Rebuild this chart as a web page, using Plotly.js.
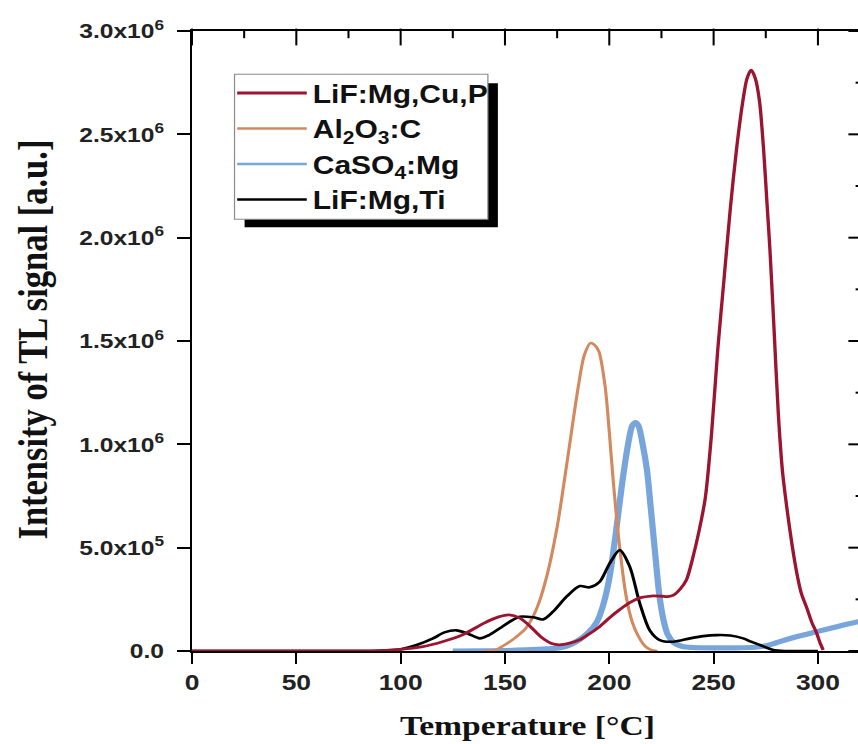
<!DOCTYPE html>
<html><head><meta charset="utf-8">
<script src="https://cdn.plot.ly/plotly-3.0.1.min.js"></script>
<style>
html,body{margin:0;padding:0;overflow:hidden;background:#fff;width:858px;height:744px;}
#wrap{position:absolute;left:0;top:0;width:740px;height:744px;transform:scaleX(1.2);transform-origin:0 0;}
</style></head><body><div id="wrap"><div id="chart"></div></div>
<script>
// Temperature [°C] and TL intensity [a.u.]
const names = ["LiF:Mg,Cu,P", "Al<sub>2</sub>O<sub>3</sub>:C", "CaSO<sub>4</sub>:Mg", "LiF:Mg,Ti"];

const tLiFCuP = [0, 50, 90, 100, 110, 120, 130, 140, 147, 152, 157, 162, 167, 172, 176, 181, 186, 190, 195, 200, 205, 210, 215, 220, 225, 228, 231, 234, 237, 240, 243, 246, 249, 252, 255, 258, 261, 264, 266, 268, 270, 272, 274, 275.5, 277, 279, 281, 283, 285, 287.5, 290, 292, 294.6, 297, 299.4, 301, 302.5];
const iLiFCuP = [0, 0, 2e3, 8e3, 2.0e4, 4.5e4, 8.0e4, 1.35e5, 1.65e5, 1.75e5, 1.60e5, 1.20e5, 7.0e4, 3.8e4, 3.0e4, 3.8e4, 5.5e4, 8.0e4, 1.15e5, 1.60e5, 2.00e5, 2.35e5, 2.58e5, 2.66e5, 2.65e5, 2.63e5, 2.72e5, 3.00e5, 3.45e5, 4.50e5, 5.80e5, 7.40e5, 1.05e6, 1.46e6, 1.80e6, 2.14e6, 2.43e6, 2.66e6, 2.77e6, 2.81e6, 2.77e6, 2.66e6, 2.42e6, 2.18e6, 1.94e6, 1.55e6, 1.15e6, 8.7e5, 7.0e5, 5.2e5, 3.7e5, 2.8e5, 2.1e5, 1.4e5, 8.6e4, 4.0e4, 5e3];

const tAl2O3 = [140, 145, 150, 155, 160, 165, 170, 175, 180, 185, 188, 191, 193, 195, 198, 200, 202, 205, 208, 211, 214, 217, 220, 223];
const iAl2O3 = [0, 3e3, 3.0e4, 6.5e4, 1.10e5, 2.00e5, 3.60e5, 6.00e5, 9.30e5, 1.27e6, 1.43e6, 1.49e6, 1.48e6, 1.45e6, 1.28e6, 1.06e6, 8.1e5, 5.0e5, 2.7e5, 1.4e5, 7.0e4, 2.5e4, 5e3, 0];

const tCaSO4 = [125, 140, 150, 160, 170, 176, 180, 185, 190, 194, 197, 200, 203, 206, 209, 211, 212.6, 214, 216, 218, 220, 222, 224, 226, 228, 231, 235, 240, 250, 260, 270, 275, 280, 290, 300, 310, 322];
const iCaSO4 = [0, 1e3, 2e3, 5e3, 1.0e4, 1.5e4, 2.5e4, 5.0e4, 9.0e4, 1.40e5, 2.20e5, 3.50e5, 5.60e5, 8.00e5, 1.00e6, 1.09e6, 1.105e6, 1.09e6, 1.00e6, 8.8e5, 6.8e5, 4.7e5, 2.7e5, 1.5e5, 8.0e4, 4.0e4, 2.2e4, 1.7e4, 1.5e4, 1.5e4, 1.8e4, 2.5e4, 4.0e4, 7.0e4, 9.5e4, 1.20e5, 1.48e5];

const tLiFTi = [0, 50, 90, 100, 108, 115.5, 121, 126.7, 132, 137.9, 142, 147.5, 152, 157.1, 163.5, 168.3, 173, 179.5, 185.9, 190.6, 195.4, 200.2, 205, 209.8, 214.6, 219.4, 224.2, 230.6, 238.6, 245, 251.4, 258, 264.2, 268, 272.2, 278.6, 285, 300];
const iLiFTi = [0, 0, 1e3, 8e3, 3.0e4, 6.1e4, 9.0e4, 1.00e5, 8.5e4, 6.1e4, 7.5e4, 1.10e5, 1.40e5, 1.66e5, 1.63e5, 1.53e5, 1.90e5, 2.63e5, 3.14e5, 3.08e5, 3.35e5, 4.24e5, 4.88e5, 4.08e5, 2.31e5, 1.00e5, 5.3e4, 4.5e4, 6.1e4, 7.2e4, 7.7e4, 7.5e4, 6.1e4, 4.5e4, 2.9e4, 5e3, 0, 0];

const xMajor = [0, 50, 100, 150, 200, 250, 300];
const xMinor = [25, 75, 125, 175, 225, 275];
const yTickVals = [0, 5e5, 1e6, 1.5e6, 2e6, 2.5e6, 3e6];
const yTickText = ["0.0", "5.0x10<sup>5</sup>", "1.0x10<sup>6</sup>", "1.5x10<sup>6</sup>", "2.0x10<sup>6</sup>", "2.5x10<sup>6</sup>", "3.0x10<sup>6</sup>"];
const yMinor = [2.5e5, 7.5e5, 1.25e6, 1.75e6, 2.25e6, 2.75e6];

const colors = {red: "#9c1530", orange: "#d3895d", blue: "#78a5db", black: "#000000"};

const W = 740, H = 744, ML = 160.4, MR = 21.25, MT = 30.7, MB = 93;
const xr = [0, 321.5], yr = [0, 3e6];
const perPxX = (xr[1] - xr[0]) / (W - ML - MR);
const perPxY = (yr[1] - yr[0]) / (H - MT - MB);

function tr(x, y, name, color, width, rank, extra) {
  return Object.assign({x: x, y: y, name: name, type: "scatter", mode: "lines",
    line: {color: color, width: width, shape: "spline", smoothing: 0.8},
    legendrank: rank}, extra || {});
}
// tick marks: outside on bottom/left, inside on top/right
function tickTrace(xs, ys, symbol, size, width) {
  return {x: xs, y: ys, type: "scatter", mode: "markers", showlegend: false, hoverinfo: "skip", cliponaxis: false,
    marker: {symbol: symbol, size: size, color: "#000", line: {color: "#000", width: width}}};
}
const constArr = (n, v) => Array.from({length: n}, () => v);
const ticks = [
  tickTrace(xMajor, constArr(xMajor.length, yr[0] - 5.5 * perPxY), "line-ns-open", 11, 1.7),
  tickTrace(xMinor, constArr(xMinor.length, yr[0] - 3 * perPxY), "line-ns-open", 6, 1.7),
  tickTrace(xMajor, constArr(xMajor.length, yr[1] - 6 * perPxY), "line-ns-open", 12, 1.7),
  tickTrace(xMinor, constArr(xMinor.length, yr[1] - 3 * perPxY), "line-ns-open", 6, 1.7),
  tickTrace(constArr(yTickVals.length, xr[0] - 5.25 * perPxX), yTickVals, "line-ew-open", 10.5, 2),
  tickTrace(constArr(yMinor.length, xr[0] - 2.75 * perPxX), yMinor, "line-ew-open", 5.5, 2),
  tickTrace(constArr(yTickVals.length, xr[1] - 5 * perPxX), yTickVals, "line-ew-open", 10, 2),
  tickTrace(constArr(yMinor.length, xr[1] - 2.5 * perPxX), yMinor, "line-ew-open", 5, 2)
];

const data = [
  tr(tCaSO4, iCaSO4, names[2], colors.blue, 5.2, 3, {showlegend: false}),
  tr(tCaSO4, iCaSO4, names[2], colors.blue, 2.4, 3),
  tr(tAl2O3, iAl2O3, names[1], colors.orange, 2.6, 2),
  tr(tLiFTi, iLiFTi, names[3], colors.black, 2.6, 4),
  tr(tLiFCuP, iLiFCuP, names[0], colors.red, 2.8, 1)
].concat(ticks);

const sansBold = {family: "Liberation Sans, Arial, sans-serif", color: "#222", weight: "bold"};
const serifBold = {family: "Liberation Serif, Times New Roman, serif", color: "#111", weight: "bold"};

const layout = {
  width: W, height: H,
  margin: {l: ML, r: MR, t: MT, b: MB, pad: 0},
  paper_bgcolor: "#fff", plot_bgcolor: "#fff",
  showlegend: true,
  xaxis: {range: xr, tickmode: "array", tickvals: xMajor, ticks: "outside", ticklen: 11, tickwidth: 1.7, tickcolor: "#000",
    showline: true, mirror: true, linewidth: 2, linecolor: "#000", showgrid: false, zeroline: false,
    tickfont: Object.assign({size: 22}, sansBold),
    title: {text: "Temperature [°C]", font: Object.assign({size: 28}, serifBold), standoff: 21},
    automargin: false},
  yaxis: {range: yr, tickmode: "array", tickvals: yTickVals, ticktext: yTickText, ticks: "outside", ticklen: 10.5, tickwidth: 2, tickcolor: "#000",
    ticklabelstandoff: 7,
    showline: true, mirror: true, linewidth: 1.7, linecolor: "#000", showgrid: false, zeroline: false,
    tickfont: Object.assign({size: 20.5}, sansBold),
    automargin: false},
  annotations: [
    {text: "Intensity of TL signal [a.u.]", xref: "paper", yref: "paper", x: (28 - ML) / (W - ML - MR), y: 0.503,
     xanchor: "center", yanchor: "middle", textangle: -90, showarrow: false,
     font: Object.assign({size: 34.5}, serifBold)}
  ],
  legend: {x: 0.0584, y: 0.9367, xanchor: "left", yanchor: "top", bgcolor: "rgba(0,0,0,0)", borderwidth: 0,
    font: {family: "Liberation Sans, Arial, sans-serif", size: 25, color: "#111", weight: "bold"},
    itemwidth: 58, traceorder: "normal"},
  shapes: [
    {type: "rect", xref: "paper", yref: "paper", x0: 0.0784, x1: 0.4560, y0: 0.6836, y1: 0.9157, fillcolor: "#000", line: {width: 0}, layer: "below"},
    {type: "rect", xref: "paper", yref: "paper", x0: 0.0634, x1: 0.4411, y0: 0.6964, y1: 0.9302, fillcolor: "#fff", line: {width: 1, color: "#8a8a8a"}, layer: "below"}
  ]
};

Plotly.newPlot("chart", data, layout, {staticPlot: true, displayModeBar: false});
</script></body></html>
